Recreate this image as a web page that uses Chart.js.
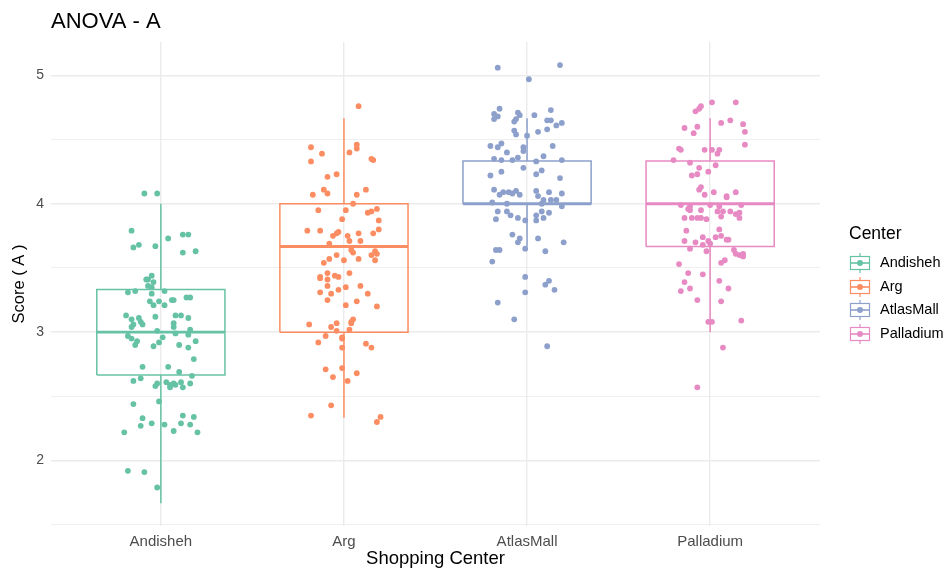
<!DOCTYPE html>
<html lang="en">
<head>
    <meta charset="UTF-8">
    <title>ANOVA - A</title>
    <script src="https://cdn.jsdelivr.net/npm/chart.js@4.4.0/dist/chart.umd.min.js"></script>
    <style>
        body { margin: 0; background: #fff; font-family: "Liberation Sans", Arial, sans-serif; }
        #wrapper { position: relative; width: 948px; height: 570px; }
        #legend { position: absolute; left: 849px; top: 223px; }
        #legend .ttl { position: absolute; left: 0; top: 0; font-size: 17.5px; color: #000; white-space: nowrap; }
        #legend .row { position: absolute; left: 0; height: 22px; white-space: nowrap; }
        #legend .row svg { position: absolute; left: 0; top: 0; }
        #legend .row span { position: absolute; left: 31px; top: 2px; font-size: 14.5px; color: #000; }
    </style>
</head>
<body>
<div id="wrapper">
    <canvas id="chart" width="948" height="570"></canvas>
    <div id="legend"></div>
</div>
<script>
    // categories and colours
    const categories = ['Andisheh', 'Arg', 'AtlasMall', 'Palladium'];
    const colors = ['#66C2A5', '#FC8D62', '#8DA0CB', '#E78AC3'];

    // box statistics
    const q1 = [2.667, 3.0, 4.0, 3.667];
    const median = [3.0, 3.667, 4.0, 4.0];
    const q3 = [3.333, 4.0, 4.333, 4.333];
    const whiskerLo = [1.667, 2.333, 3.667, 3.0];
    const whiskerHi = [4.0, 4.667, 4.667, 4.667];

    // jittered points: score and horizontal jitter
    const andishehY = [4.08,4.08,3.79,3.76,3.76,3.73,3.66,3.68,3.67,3.62,3.63,3.44,3.41,3.41,3.39,3.36,3.35,3.31,3.32,3.32,3.30,3.27,3.27,3.24,3.24,3.25,3.25,3.21,3.21,3.13,3.10,3.11,3.08,3.12,3.13,3.13,3.11,3.04,3.06,3.06,3.07,3.04,3.02,3.01,2.99,2.98,2.97,2.95,2.93,2.90,2.96,2.92,2.89,2.90,2.88,2.93,2.79,2.73,2.73,2.69,2.66,2.62,2.64,2.58,2.60,2.61,2.59,2.57,2.60,2.59,2.61,2.57,2.60,2.46,2.44,2.33,2.27,2.29,2.28,2.35,2.34,2.29,2.28,2.22,2.23,2.22,1.92,1.91,1.79];
    const andishehJit = [-0.09,-0.02,-0.16,0.12,0.15,0.04,-0.15,-0.12,-0.03,0.12,0.19,-0.05,-0.08,-0.07,-0.04,-0.07,-0.05,-0.18,-0.14,0.02,-0.05,0.14,0.16,-0.06,-0.01,0.06,0.07,-0.04,0.02,-0.19,-0.16,-0.12,-0.11,-0.03,0.08,0.11,0.15,-0.16,-0.15,-0.10,0.07,0.07,0.16,-0.02,0.08,0.15,-0.18,-0.16,-0.13,-0.14,0.01,-0.01,-0.04,0.10,0.15,0.19,0.18,-0.10,0.04,0.10,0.17,-0.15,-0.11,-0.03,-0.02,0.03,0.05,0.05,0.07,0.08,0.11,0.12,0.16,-0.01,-0.15,-0.10,-0.11,-0.05,0.02,0.12,0.18,0.11,0.16,-0.20,0.07,0.20,-0.18,-0.09,-0.02];

    const argY = [4.76,4.44,4.39,4.33,4.40,4.46,4.43,4.35,4.34,4.21,4.23,4.11,4.08,4.07,4.07,4.11,4.00,3.95,3.95,3.93,3.94,3.96,3.88,3.87,3.79,3.79,3.75,3.77,3.78,3.75,3.77,3.77,3.80,3.71,3.71,3.69,3.64,3.62,3.60,3.63,3.61,3.56,3.57,3.56,3.60,3.57,3.54,3.46,3.46,3.43,3.42,3.41,3.44,3.43,3.36,3.36,3.35,3.33,3.31,3.30,3.30,3.25,3.24,3.21,3.20,3.10,3.08,3.07,3.07,3.06,3.04,3.01,3.02,2.97,2.96,2.95,2.92,2.91,2.88,2.88,2.71,2.72,2.65,2.68,2.62,2.43,2.35,2.34,2.30];
    const argJit = [0.08,-0.18,-0.12,-0.18,0.03,0.07,0.07,0.15,0.16,-0.09,-0.04,-0.11,-0.09,-0.17,0.07,0.12,0.05,-0.14,0.01,0.13,0.15,0.18,-0.01,0.19,-0.20,-0.13,-0.06,-0.04,-0.03,0.02,0.08,0.16,0.19,0.03,0.09,-0.08,0.04,0.05,0.15,0.17,0.18,0.17,0.08,0.00,-0.04,-0.08,-0.11,0.03,-0.09,-0.13,-0.13,-0.09,-0.05,-0.03,-0.09,0.09,0.01,-0.03,-0.13,-0.07,0.13,-0.09,0.07,0.01,0.18,0.05,0.04,0.04,-0.04,-0.19,-0.07,-0.04,0.03,-0.10,-0.01,-0.01,-0.14,0.12,0.15,-0.01,-0.10,-0.01,-0.06,0.07,0.02,-0.07,-0.18,0.20,0.18];

    const atlasY = [5.06,5.08,4.97,4.74,4.70,4.68,4.66,4.71,4.69,4.69,4.73,4.66,4.64,4.65,4.65,4.61,4.63,4.57,4.54,4.53,4.56,4.58,4.45,4.44,4.47,4.44,4.41,4.45,4.40,4.35,4.34,4.34,4.36,4.37,4.33,4.34,4.28,4.22,4.25,4.26,4.23,4.20,4.11,4.07,4.09,4.09,4.08,4.10,4.07,4.10,4.06,4.09,4.08,4.03,4.03,4.03,4.00,4.01,4.00,3.98,3.94,3.94,3.91,3.88,3.89,3.87,3.91,3.87,3.89,3.94,3.93,3.76,3.73,3.70,3.73,3.70,3.64,3.64,3.65,3.63,3.55,3.43,3.31,3.40,3.37,3.33,3.23,3.10,2.89];
    const atlasJit = [-0.16,0.18,0.01,-0.15,-0.18,-0.16,-0.18,-0.05,-0.04,0.04,0.13,-0.06,-0.07,0.11,0.13,0.16,0.19,-0.07,-0.06,0.00,0.06,0.11,-0.20,-0.16,-0.14,-0.02,-0.02,0.14,-0.11,-0.18,-0.14,-0.08,-0.05,0.09,0.05,0.19,-0.02,-0.20,-0.14,0.08,0.05,0.18,-0.18,-0.15,-0.13,-0.10,-0.08,-0.06,-0.04,0.05,0.06,0.12,0.19,0.09,0.13,0.16,0.08,-0.19,-0.11,0.19,-0.16,-0.11,-0.09,-0.17,-0.05,-0.01,0.05,0.05,0.09,0.08,0.12,-0.08,-0.04,-0.05,0.06,0.20,-0.17,-0.15,-0.01,0.10,-0.19,-0.01,-0.01,0.12,0.10,0.15,-0.16,-0.07,0.11];

    const palladiumY = [4.79,4.79,4.76,4.74,4.72,4.63,4.65,4.62,4.56,4.59,4.60,4.55,4.46,4.43,4.42,4.42,4.42,4.42,4.39,4.34,4.32,4.30,4.28,4.25,4.23,4.22,4.13,4.11,4.09,4.07,4.06,4.05,4.09,3.99,3.96,3.98,3.95,3.95,3.99,3.98,3.94,3.94,3.94,3.99,3.92,3.93,3.89,3.89,3.89,3.89,3.89,3.88,3.90,3.79,3.74,3.80,3.74,3.75,3.72,3.72,3.71,3.70,3.71,3.69,3.68,3.65,3.63,3.64,3.61,3.60,3.61,3.59,3.54,3.56,3.53,3.46,3.45,3.39,3.32,3.34,3.40,3.34,3.25,3.24,3.08,3.08,3.09,2.88,2.57];
    const palladiumJit = [0.01,0.14,-0.05,-0.06,-0.08,0.06,0.11,0.18,0.19,-0.14,-0.07,-0.09,0.19,-0.17,-0.16,-0.03,0.01,0.05,0.04,-0.20,-0.11,0.03,-0.06,-0.01,-0.07,-0.10,-0.05,-0.06,0.02,-0.03,0.09,0.09,0.14,-0.16,-0.12,-0.11,-0.11,-0.05,0.00,0.05,0.04,0.07,0.11,0.17,0.14,0.16,0.16,-0.14,-0.10,-0.07,-0.05,-0.02,0.06,-0.13,-0.04,0.05,0.03,0.06,0.09,0.10,-0.14,-0.08,-0.01,0.00,-0.04,-0.11,-0.02,0.13,0.14,0.16,0.18,0.18,0.06,0.08,-0.17,-0.12,-0.04,-0.14,-0.16,-0.11,0.05,0.10,-0.07,0.06,-0.01,0.01,0.17,0.07,-0.07];

    const yMajor = [2, 3, 4, 5];
    const yMinor = [1.5, 2.5, 3.5, 4.5];

    const pointsY = [andishehY, argY, atlasY, palladiumY];
    const pointsJit = [andishehJit, argJit, atlasJit, palladiumJit];
    const boxHalf = 0.35;

    Chart.defaults.font.family = "'Liberation Sans', Arial, sans-serif";

    var datasets = [];
    categories.forEach(function (name, i) {
        var c = i + 1;
        // box outline
        datasets.push({
            type: 'line', label: name + ' box', order: 2,
            data: [{x: c - boxHalf, y: q1[i]}, {x: c + boxHalf, y: q1[i]}, {x: c + boxHalf, y: q3[i]},
                   {x: c - boxHalf, y: q3[i]}, {x: c - boxHalf, y: q1[i]}],
            borderColor: colors[i], borderWidth: 1.5, pointRadius: 0, fill: false,
            borderJoinStyle: 'miter', tension: 0
        });
        // whiskers
        datasets.push({
            type: 'line', label: name + ' whisker', order: 2,
            data: [{x: c, y: whiskerHi[i]}, {x: c, y: q3[i]}, {x: c, y: null},
                   {x: c, y: q1[i]}, {x: c, y: whiskerLo[i]}],
            borderColor: colors[i], borderWidth: 1.5, pointRadius: 0, fill: false, spanGaps: false
        });
        // median
        datasets.push({
            type: 'line', label: name + ' median', order: 1,
            data: [{x: c - boxHalf, y: median[i]}, {x: c + boxHalf, y: median[i]}],
            borderColor: colors[i], borderWidth: 2.8, pointRadius: 0, fill: false
        });
        // jittered observations
        datasets.push({
            type: 'scatter', label: name, order: 0,
            data: pointsY[i].map(function (v, k) { return {x: c + pointsJit[i][k], y: v}; }),
            backgroundColor: colors[i], borderWidth: 0, pointRadius: 2.9, pointHoverRadius: 2.9
        });
    });

    new Chart(document.getElementById('chart'), {
        type: 'scatter',
        data: { datasets: datasets },
        options: {
            responsive: false,
            animation: false,
            layout: { padding: { left: 0, right: 128, top: 0, bottom: 0 } },
            plugins: {
                legend: { display: false },
                tooltip: { enabled: false },
                title: {
                    display: true, text: 'ANOVA - A', align: 'start', fullSize: false,
                    color: '#000', font: { size: 22, weight: 'normal' },
                    padding: { top: 9, bottom: 6.6 }
                }
            },
            scales: {
                x: {
                    type: 'linear', min: 0.4, max: 4.6,
                    afterBuildTicks: function (s) { s.ticks = [1, 2, 3, 4].map(function (v) { return {value: v}; }); },
                    ticks: {
                        callback: function (v) { return categories[v - 1]; },
                        color: '#4d4d4d', font: { size: 15 }, padding: 7, maxRotation: 0
                    },
                    grid: { color: '#ebebeb', lineWidth: 1.4, drawTicks: false },
                    border: { display: false },
                    title: { display: true, text: 'Shopping Center', color: '#000', font: { size: 18.5 }, padding: { top: 0, bottom: 0 } },
                    afterFit: function (s) { s.height = 44; }
                },
                y: {
                    min: 1.49, max: 5.26,
                    afterBuildTicks: function (s) {
                        s.ticks = yMinor.concat(yMajor).sort().map(function (v) { return {value: v}; });
                    },
                    ticks: {
                        callback: function (v) { return yMajor.indexOf(v) >= 0 ? v : ''; },
                        color: '#4d4d4d', font: { size: 14 }, padding: 7
                    },
                    grid: {
                        color: '#ebebeb', drawTicks: false,
                        lineWidth: function (ctx) { return yMajor.indexOf(ctx.tick.value) >= 0 ? 1.4 : 0.8; }
                    },
                    border: { display: false },
                    title: { display: true, text: 'Score ( A )', color: '#000', font: { size: 16.5 }, padding: { top: 10, bottom: 0 } },
                    afterFit: function (s) { s.width = 51; }
                }
            }
        }
    });

    // legend (ggplot style boxplot keys)
    var legend = document.getElementById('legend');
    var html = '<div class="ttl">Center</div>';
    categories.forEach(function (name, i) {
        var col = colors[i];
        html += '<div class="row" style="top:' + (29 + i * 23.5) + 'px">' +
            '<svg width="22" height="22" viewBox="0 0 22 22">' +
            '<line x1="11" y1="1" x2="11" y2="21" stroke="' + col + '" stroke-width="1.2"/>' +
            '<rect x="1.5" y="4.5" width="19" height="13" fill="#fff" stroke="' + col + '" stroke-width="1.2"/>' +
            '<line x1="1.5" y1="11" x2="20.5" y2="11" stroke="' + col + '" stroke-width="1.6"/>' +
            '<circle cx="11" cy="11" r="3" fill="' + col + '"/>' +
            '</svg><span>' + name + '</span></div>';
    });
    legend.innerHTML = html;
</script>
</body>
</html>
